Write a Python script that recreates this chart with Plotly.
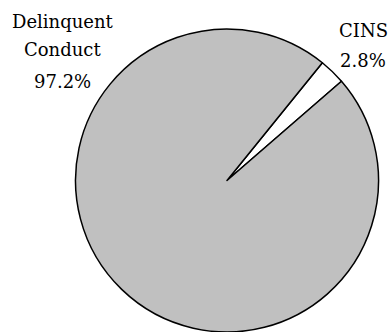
import plotly.graph_objects as go

# Offense categories and their shares of referrals (percent)
categories = ["CINS", "Delinquent Conduct"]
shares = [2.8, 97.2]
label_lines = [["CINS"], ["Delinquent", "Conduct"]]
slice_colors = ["#ffffff", "#c0c0c0"]

W, H = 389, 332
font = dict(family="DejaVu Serif", size=18, color="#000000")

fig = go.Figure(
    go.Pie(
        labels=categories,
        values=shares,
        sort=False,
        direction="clockwise",
        rotation=39,
        marker=dict(colors=slice_colors, line=dict(color="#000000", width=1.5)),
        textinfo="none",
        hoverinfo="label+percent",
        domain=dict(x=[(227 - 151.5) / W, (227 + 151.5) / W], y=[0, 303 / H]),
        showlegend=False,
    )
)

# Outside labels: name lines followed by the percentage
label_pos = {
    "CINS": (363, [30, 60]),
    "Delinquent Conduct": (63, [21, 50, 81]),
}
for cat, lines, val in zip(categories, label_lines, shares):
    cx, ys = label_pos[cat]
    texts = lines + [f"{val:.1f}%"]
    for t, ypx in zip(texts, ys):
        fig.add_annotation(
            x=cx / W, y=1 - ypx / H, xref="paper", yref="paper",
            text=t, showarrow=False, xanchor="center", yanchor="middle",
            font=font,
        )

fig.update_layout(
    width=W, height=H,
    margin=dict(l=0, r=0, t=0, b=0),
    paper_bgcolor="#ffffff",
    plot_bgcolor="#ffffff",
)

fig.write_html("out.html")
